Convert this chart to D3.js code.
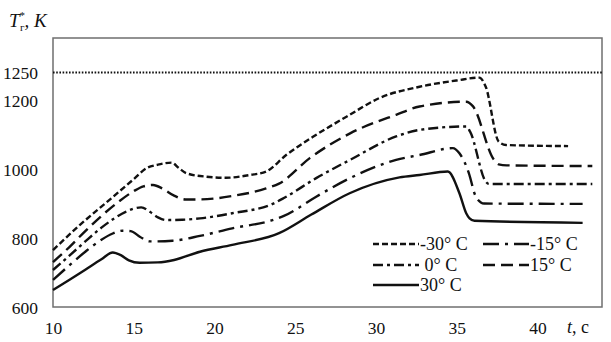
<!DOCTYPE html>
<html>
<head>
<meta charset="utf-8">
<script src="https://cdn.jsdelivr.net/npm/d3@7"></script>
<style>
  body { margin: 0; background: #fff; }
  svg { font-family: "Liberation Serif", "Times New Roman", serif; }
</style>
</head>
<body>
<script>
// values (t in s, gas temperature in K)
const tMinus30 = [10, 11.67, 13.73, 15, 15.8, 16.5, 17.34, 17.8, 18.27, 19.5, 20.7, 22.2, 23.2, 24.44, 26.1, 28.2, 30.2, 32.7, 35, 36.4, 36.8, 37.6, 38.06, 41.9];
const vMinus30 = [767, 840, 922, 973, 1005, 1015, 1021, 1005, 990, 980, 977, 985, 995, 1043, 1096, 1155, 1205, 1225, 1236, 1241, 1225, 1082, 1072, 1069];

const tPlus15 = [10, 11, 12, 13, 14, 15, 15.6, 16.2, 16.8, 17.5, 18.2, 19.1, 21.1, 23.2, 24, 25.9, 28.4, 31.25, 32.7, 35.6, 36, 37.3, 37.6, 38.1, 43.4];
const vPlus15 = [732, 775, 822, 866, 905, 938, 952, 956, 945, 925, 914, 914, 924, 946, 960, 1034, 1106, 1160, 1184, 1198, 1185, 1030, 1016, 1013, 1011];

const tZero = [10, 11, 12, 13, 13.8, 14.5, 15.46, 16, 16.5, 17, 18, 19.1, 21.1, 23.6, 24.3, 26.3, 28.4, 31.25, 32.7, 35.6, 35.83, 36.8, 37, 43.4];
const vZero = [709, 750, 792, 832, 859, 878, 891, 878, 862, 854, 855, 859, 874, 901, 918, 976, 1029, 1097, 1116, 1126, 1111, 966, 959, 959];

const tMinus15 = [10, 11, 12, 13, 13.7, 14.3, 14.8, 15.4, 16, 17.4, 19.1, 21.1, 23.6, 24.3, 26.3, 28.4, 31.25, 32.7, 34.76, 35.17, 35.79, 36.1, 36.5, 36.7, 42.8];
const vMinus15 = [680, 722, 762, 797, 815, 823, 822, 805, 792, 794, 808, 830, 854, 866, 922, 976, 1029, 1043, 1063, 1048, 985, 932, 905, 902, 901];

const tPlus30 = [10, 11, 12, 13, 13.7, 14.2, 14.7, 15.36, 16.5, 17.5, 19.1, 21.1, 24, 26, 28.37, 31.46, 32.7, 34.45, 35.17, 35.59, 35.8, 36.1, 42.8];
const vPlus30 = [651, 680, 710, 740, 760, 752, 737, 730, 731, 738, 762, 782, 816, 870, 932, 978, 985, 995, 932, 874, 859, 852, 846];

const seriesNames = ['-30° C', '-15° C', ' 0° C', '15° C', '30° C'];
const yTicks = [600, 800, 1000, 1200, 1250];
const xTicks = [10, 15, 20, 25, 30, 35, 40];
const limitValue = 1250;

const width = 611;
const height = 342;
const plotLeft = 53, plotRight = 602, plotTop = 38, plotBottom = 307;
const serif = '"Liberation Serif", "Times New Roman", serif';

const canvas = d3.select('body').append('svg')
                  .attr('width', width)
                  .attr('height', height)
                  .attr('font-family', serif);

const xScale = d3.scaleLinear().domain([10, 44]).range([plotLeft, plotRight]);
// the printed axis is not uniform above 1200, so the scale is piecewise
const yScale = d3.scaleLinear().domain([600, 1200, 1250]).range([307.5, 101, 72.5]);

const series = [
  { name: seriesNames[0], t: tMinus30, v: vMinus30, dash: '6,3' },
  { name: seriesNames[1], t: tMinus15, v: vMinus15, dash: '16,6,3,6' },
  { name: seriesNames[2], t: tZero, v: vZero, dash: '10,4,3,4' },
  { name: seriesNames[3], t: tPlus15, v: vPlus15, dash: '12,6' },
  { name: seriesNames[4], t: tPlus30, v: vPlus30, dash: null }
].map((s) => ({ ...s, points: s.t.map((t, i) => ({ x: t, y: s.v[i] })) }));

// frame
canvas.append('rect')
  .attr('x', plotLeft)
  .attr('y', plotTop)
  .attr('width', plotRight - plotLeft)
  .attr('height', plotBottom - plotTop)
  .attr('fill', 'none')
  .attr('stroke', '#6f6f6f')
  .attr('stroke-width', 1.5);

const xAxis = d3.axisBottom(xScale).tickValues(xTicks).tickFormat(d3.format('d')).tickSize(0).tickPadding(15);
const yAxis = d3.axisLeft(yScale).tickValues(yTicks).tickFormat(d3.format('d')).tickSize(0).tickPadding(15);

const gx = canvas.append('g')
  .attr('transform', `translate(0, ${plotBottom})`)
  .call(xAxis);
const gy = canvas.append('g')
  .attr('transform', `translate(${plotLeft}, 0)`)
  .call(yAxis);

[gx, gy].forEach((g) => {
  g.attr('font-family', serif).attr('font-size', 17.5);
  g.select('.domain').remove();
  g.selectAll('text').attr('fill', '#111');
});

// limit line
canvas.append('line')
  .attr('x1', plotLeft)
  .attr('x2', plotRight)
  .attr('y1', yScale(limitValue))
  .attr('y2', yScale(limitValue))
  .attr('stroke', '#111')
  .attr('stroke-width', 1.8)
  .attr('stroke-dasharray', '1.6,1.6');

const line = d3.line()
              .x((d) => xScale(d.x))
              .y((d) => yScale(d.y))
              .curve(d3.curveMonotoneX);

canvas.append('g')
  .selectAll('path')
  .data(series)
  .enter()
  .append('path')
  .attr('d', (d) => line(d.points))
  .attr('fill', 'none')
  .attr('stroke', '#111')
  .attr('stroke-width', 2.4)
  .attr('stroke-dasharray', (d) => d.dash);

// legend
const legendX = [373, 483];
const legendY = [244, 265, 285];
const legend = canvas.append('g')
  .selectAll('g')
  .data(series)
  .enter()
  .append('g')
  .attr('transform', (d, i) => `translate(${legendX[i % 2]}, ${legendY[Math.floor(i / 2)]})`);

legend.append('line')
  .attr('x1', 0)
  .attr('x2', 46)
  .attr('stroke', '#111')
  .attr('stroke-width', 2.4)
  .attr('stroke-dasharray', (d) => d.dash);

legend.append('text')
  .attr('x', 47)
  .attr('dy', '0.35em')
  .attr('font-size', 18)
  .attr('fill', '#111')
  .style('white-space', 'pre')
  .text((d) => d.name);

// axis titles
const yTitle = canvas.append('text')
  .attr('x', 9)
  .attr('y', 27)
  .attr('font-size', 19)
  .attr('fill', '#111');
yTitle.append('tspan').attr('font-style', 'italic').text('T');
yTitle.append('tspan').attr('font-size', 11).attr('dy', -8).text('*');
yTitle.append('tspan').attr('font-size', 11).attr('dx', -5).attr('dy', 12).text('г');
yTitle.append('tspan').attr('font-style', 'italic').attr('dy', -4).text(', K');

const xTitle = canvas.append('text')
  .attr('x', 567)
  .attr('y', 333)
  .attr('font-size', 18)
  .attr('fill', '#111');
xTitle.append('tspan').attr('font-style', 'italic').text('t');
xTitle.append('tspan').text(', c');
</script>
</body>
</html>
